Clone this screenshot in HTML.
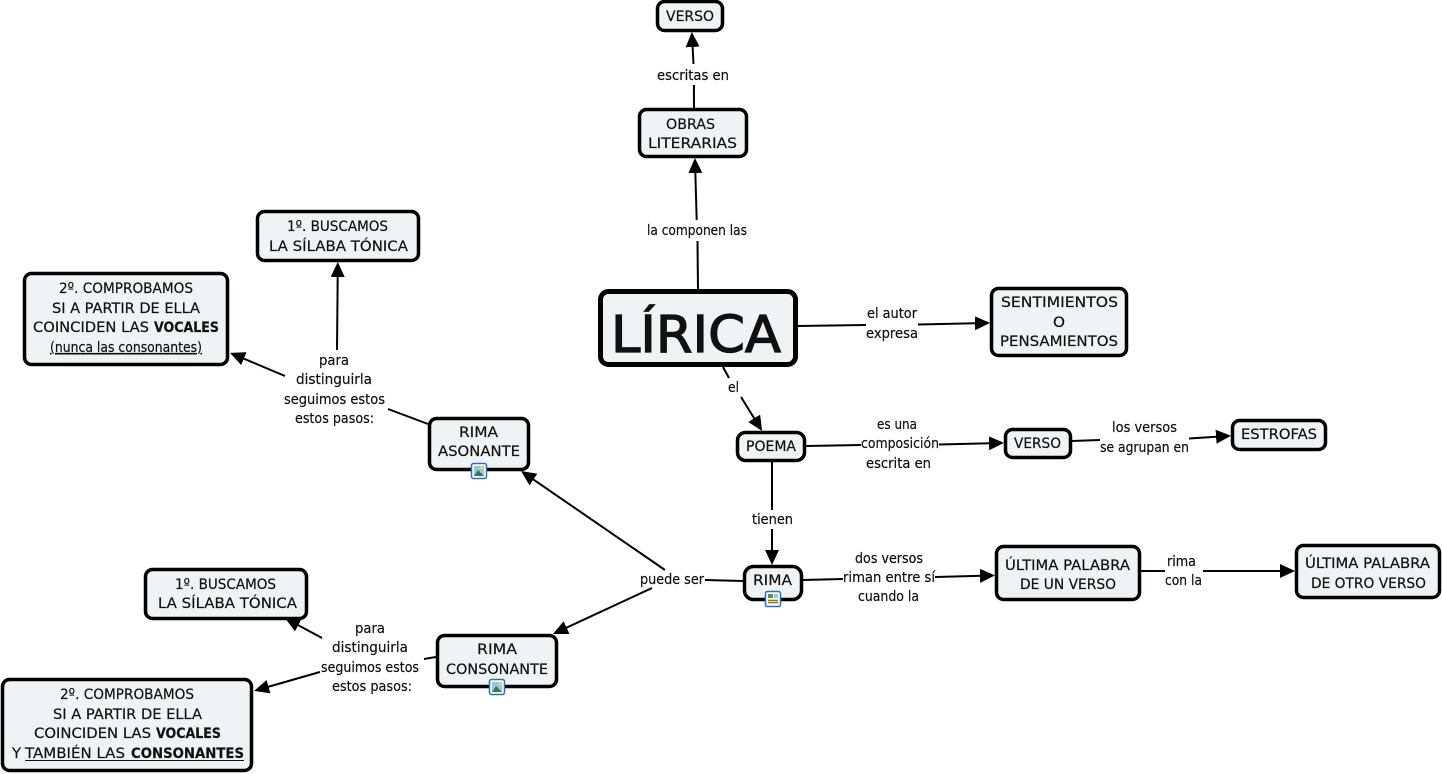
<!DOCTYPE html>
<html lang="es"><head><meta charset="utf-8"><title>Lírica</title>
<style>
html,body{margin:0;padding:0;background:#fff;width:1442px;height:774px;overflow:hidden}
svg{display:block}
text{font-family:"Comic Sans MS","DejaVu Sans",sans-serif;font-size:14.5px;fill:#111;stroke:#111;stroke-width:.2}
.b{fill:#eef3f6;stroke:#000;stroke-width:3.5}
.l{stroke:#000;stroke-width:2;fill:none}
.w{font-weight:bold}
</style></head><body>
<svg xmlns="http://www.w3.org/2000/svg" width="1442" height="774" viewBox="0 0 1442 774">
<defs><marker id="a" markerUnits="userSpaceOnUse" markerWidth="18" markerHeight="16" refX="12" refY="7" orient="auto"><path d="M0 0L15 7L0 14Z" fill="#000"/></marker></defs>
<!-- connectors -->
<g class="l">
<path class="l" d="M694 108L693.9 85"/><path class="l" d="M693.5 64L692 35" marker-end="url(#a)"/>
<path class="l" d="M698 290L697.5 241"/><path class="l" d="M696.7 220L695 161" marker-end="url(#a)"/>
<path class="l" d="M797 326L866 325"/><path class="l" d="M918 324.5L987 323" marker-end="url(#a)"/>
<path class="l" d="M723 367L729 378"/><path class="l" d="M741 397L760.5 428.5" marker-end="url(#a)"/>
<path class="l" d="M806 446L861 445"/><path class="l" d="M939 444.5L1001 443" marker-end="url(#a)"/>
<path class="l" d="M1072 441L1100 440"/><path class="l" d="M1189 438.5L1228 436" marker-end="url(#a)"/>
<path class="l" d="M772 462L772 510"/><path class="l" d="M772 529L772 562" marker-end="url(#a)"/>
<path class="l" d="M803 580L843 579"/><path class="l" d="M935 577L992 575.5" marker-end="url(#a)"/>
<path class="l" d="M1141 571L1165 571"/><path class="l" d="M1203 571L1292 571" marker-end="url(#a)"/>
<path class="l" d="M743 581L705 580"/>
<path class="l" d="M665 570L523.5 472.7" marker-end="url(#a)"/>
<path class="l" d="M652 588L555.7 632.7" marker-end="url(#a)"/>
<path class="l" d="M428 424L388 409"/>
<path class="l" d="M337 350L337.8 265" marker-end="url(#a)"/>
<path class="l" d="M285 376L232.8 354" marker-end="url(#a)"/>
<path class="l" d="M436 657L424 659"/>
<path class="l" d="M322 638L287.7 619.5" marker-end="url(#a)"/>
<path class="l" d="M320 672L257 690" marker-end="url(#a)"/>
</g>
<!-- nodes -->
<rect class="b" x="657.5" y="1.5" width="65" height="29" rx="7"/>
<rect class="b" x="639.5" y="109.5" width="107" height="47" rx="7"/>
<rect x="600.5" y="291.5" width="195" height="73" rx="8" fill="#eef3f6" stroke="#000" stroke-width="5"/>
<rect class="b" x="991.5" y="288.5" width="135" height="67" rx="7"/>
<rect class="b" x="737.5" y="432.5" width="67" height="28" rx="8"/>
<rect class="b" x="1005.5" y="429.5" width="65" height="28" rx="7"/>
<rect class="b" x="1232.5" y="420.5" width="93" height="29" rx="7"/>
<rect class="b" x="744.5" y="566.5" width="57" height="33" rx="9"/>
<rect class="b" x="996.5" y="546.5" width="143" height="53" rx="7"/>
<rect class="b" x="1296.5" y="545.5" width="143" height="52" rx="7"/>
<rect class="b" x="429.5" y="418.5" width="99" height="51" rx="7"/>
<rect class="b" x="437.5" y="635.5" width="119" height="51" rx="7"/>
<rect class="b" x="257.5" y="211.5" width="161" height="49" rx="7"/>
<rect class="b" x="24.5" y="273.5" width="203" height="91" rx="7"/>
<rect class="b" x="145.5" y="569.5" width="161" height="49" rx="7"/>
<rect class="b" x="2.5" y="679.5" width="249" height="91" rx="7"/>
<!-- icons -->
<g>
<rect x="471.5" y="463.5" width="15" height="15" rx="2" fill="#fff" stroke="#2b6fb5" stroke-width="1.5"/><rect x="474" y="466" width="10" height="10" fill="#9cc4e8"/><path d="M474 476L478 470L484 476Z" fill="#2e7d4a"/><circle cx="482" cy="468" r="1.5" fill="#f2d75c"/>
<rect x="489.5" y="679.5" width="15" height="15" rx="2" fill="#fff" stroke="#2b6fb5" stroke-width="1.5"/><rect x="492" y="682" width="10" height="10" fill="#9cc4e8"/><path d="M492 692L496 686L502 692Z" fill="#2e7d4a"/><circle cx="500" cy="684" r="1.5" fill="#f2d75c"/>
<rect x="765.5" y="591.5" width="15" height="15" rx="2" fill="#fff" stroke="#2b6fb5" stroke-width="1.5"/><rect x="768" y="594" width="5" height="4" fill="#5b8f6a"/><rect x="774" y="594" width="4" height="4" fill="#9cc4e8"/><rect x="768" y="599" width="10" height="5" fill="#e8d878"/><path d="M768 600.5H778M768 602.5H778" stroke="#555" stroke-width=".7"/>
</g>
<!-- texts -->
<g>
<text x="666" y="21" textLength="48" lengthAdjust="spacingAndGlyphs">VERSO</text>
<text x="657" y="80" textLength="72" lengthAdjust="spacingAndGlyphs">escritas en</text>
<text x="666" y="129" textLength="49" lengthAdjust="spacingAndGlyphs">OBRAS</text>
<text x="648" y="148" textLength="89" lengthAdjust="spacingAndGlyphs">LITERARIAS</text>
<text x="647" y="235" textLength="100" lengthAdjust="spacingAndGlyphs">la componen las</text>
<text x="611" y="352" textLength="170" lengthAdjust="spacingAndGlyphs" style="font-size:51px;stroke-width:1.3">LÍRICA</text>
<text x="867" y="318" textLength="50" lengthAdjust="spacingAndGlyphs">el autor</text>
<text x="866" y="338" textLength="52" lengthAdjust="spacingAndGlyphs">expresa</text>
<text x="1001" y="307" textLength="117" lengthAdjust="spacingAndGlyphs">SENTIMIENTOS</text>
<text x="1053" y="327" textLength="12" lengthAdjust="spacingAndGlyphs">O</text>
<text x="1000" y="346" textLength="118" lengthAdjust="spacingAndGlyphs">PENSAMIENTOS</text>
<text x="728" y="392" textLength="11" lengthAdjust="spacingAndGlyphs">el</text>
<text x="746" y="451" textLength="50" lengthAdjust="spacingAndGlyphs">POEMA</text>
<text x="877" y="429" textLength="40" lengthAdjust="spacingAndGlyphs">es una</text>
<text x="861" y="448" textLength="78" lengthAdjust="spacingAndGlyphs">composición</text>
<text x="866" y="468" textLength="65" lengthAdjust="spacingAndGlyphs">escrita en</text>
<text x="1014" y="448" textLength="47" lengthAdjust="spacingAndGlyphs">VERSO</text>
<text x="1112" y="432" textLength="65" lengthAdjust="spacingAndGlyphs">los versos</text>
<text x="1100" y="452" textLength="89" lengthAdjust="spacingAndGlyphs">se agrupan en</text>
<text x="1241" y="439" textLength="76" lengthAdjust="spacingAndGlyphs">ESTROFAS</text>
<text x="752" y="524" textLength="41" lengthAdjust="spacingAndGlyphs">tienen</text>
<text x="753" y="585" textLength="39" lengthAdjust="spacingAndGlyphs">RIMA</text>
<text x="855" y="563" textLength="68" lengthAdjust="spacingAndGlyphs">dos versos</text>
<text x="843" y="582" textLength="92" lengthAdjust="spacingAndGlyphs">riman entre sí</text>
<text x="858" y="601" textLength="61" lengthAdjust="spacingAndGlyphs">cuando la</text>
<text x="1005" y="570" textLength="125" lengthAdjust="spacingAndGlyphs">ÚLTIMA PALABRA</text>
<text x="1020" y="589" textLength="96" lengthAdjust="spacingAndGlyphs">DE UN VERSO</text>
<text x="1167" y="566" textLength="29" lengthAdjust="spacingAndGlyphs">rima</text>
<text x="1165" y="585" textLength="37" lengthAdjust="spacingAndGlyphs">con la</text>
<text x="1305" y="568" textLength="125" lengthAdjust="spacingAndGlyphs">ÚLTIMA PALABRA</text>
<text x="1311" y="588" textLength="115" lengthAdjust="spacingAndGlyphs">DE OTRO VERSO</text>
<text x="640" y="584" textLength="64" lengthAdjust="spacingAndGlyphs">puede ser</text>
<text x="459" y="437" textLength="39" lengthAdjust="spacingAndGlyphs">RIMA</text>
<text x="438" y="456" textLength="82" lengthAdjust="spacingAndGlyphs">ASONANTE</text>
<text x="477" y="654" textLength="40" lengthAdjust="spacingAndGlyphs">RIMA</text>
<text x="446" y="674" textLength="102" lengthAdjust="spacingAndGlyphs">CONSONANTE</text>
<text x="319" y="365" textLength="30" lengthAdjust="spacingAndGlyphs">para</text>
<text x="296" y="384" textLength="76" lengthAdjust="spacingAndGlyphs">distinguirla</text>
<text x="284" y="404" textLength="101" lengthAdjust="spacingAndGlyphs">seguimos estos</text>
<text x="295" y="423" textLength="79" lengthAdjust="spacingAndGlyphs">estos pasos:</text>
<text x="355" y="633" textLength="30" lengthAdjust="spacingAndGlyphs">para</text>
<text x="332" y="652" textLength="76" lengthAdjust="spacingAndGlyphs">distinguirla</text>
<text x="321" y="672" textLength="98" lengthAdjust="spacingAndGlyphs">seguimos estos</text>
<text x="332" y="691" textLength="80" lengthAdjust="spacingAndGlyphs">estos pasos:</text>
<text x="287" y="231" textLength="101" lengthAdjust="spacingAndGlyphs">1º. BUSCAMOS</text>
<text x="269" y="251" textLength="139" lengthAdjust="spacingAndGlyphs">LA SÍLABA TÓNICA</text>
<text x="59" y="293" textLength="134" lengthAdjust="spacingAndGlyphs">2º. COMPROBAMOS</text>
<text x="52" y="313" textLength="148" lengthAdjust="spacingAndGlyphs">SI A PARTIR DE ELLA</text>
<text x="33" y="332" textLength="116" lengthAdjust="spacingAndGlyphs">COINCIDEN LAS</text>
<text class="w" x="154" y="332" textLength="65" lengthAdjust="spacingAndGlyphs">VOCALES</text>
<text x="50" y="352" textLength="152" lengthAdjust="spacingAndGlyphs" text-decoration="underline">(nunca las consonantes)</text>
<text x="175" y="589" textLength="101" lengthAdjust="spacingAndGlyphs">1º. BUSCAMOS</text>
<text x="158" y="608" textLength="139" lengthAdjust="spacingAndGlyphs">LA SÍLABA TÓNICA</text>
<text x="60" y="699" textLength="134" lengthAdjust="spacingAndGlyphs">2º. COMPROBAMOS</text>
<text x="53" y="719" textLength="149" lengthAdjust="spacingAndGlyphs">SI A PARTIR DE ELLA</text>
<text x="34" y="738" textLength="117" lengthAdjust="spacingAndGlyphs">COINCIDEN LAS</text>
<text class="w" x="156" y="738" textLength="65" lengthAdjust="spacingAndGlyphs">VOCALES</text>
<text x="12" y="758" textLength="9" lengthAdjust="spacingAndGlyphs">Y</text>
<text x="25" y="758" textLength="100" lengthAdjust="spacingAndGlyphs">TAMBIÉN LAS</text>
<text class="w" x="131" y="758" textLength="113" lengthAdjust="spacingAndGlyphs">CONSONANTES</text>
<path d="M25 760.5H244" stroke="#111" stroke-width="1" fill="none"/>
</g>
</svg>
</body></html>
